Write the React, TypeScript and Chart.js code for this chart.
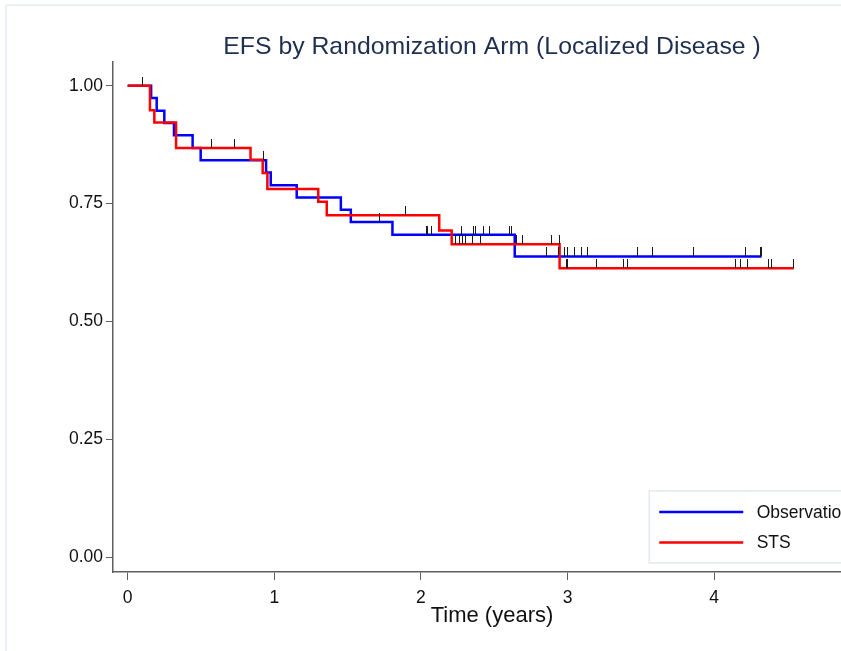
import React, { useEffect, useRef } from "react";
import { Chart, registerables } from "chart.js";

Chart.register(...registerables);

// ---------------- data ----------------
const TITLE = "EFS by Randomization Arm (Localized Disease )";
const X_TITLE = "Time (years)";
const SERIES_LABELS = ["Observation", "STS"];
const X_TICKS = [0, 1, 2, 3, 4];
const Y_TICKS = [0, 0.25, 0.5, 0.75, 1];

// Observation arm: step times (years) and survival after each step
const OBS_TIMES = [0, 0.16, 0.198, 0.25, 0.316, 0.443, 0.498, 0.944, 0.976, 1.153, 1.454, 1.522, 1.806, 2.64, 4.323];
const OBS_SURV = [1, 0.974, 0.947, 0.921, 0.895, 0.868, 0.842, 0.816, 0.789, 0.763, 0.737, 0.711, 0.684, 0.638, 0.638];
// Observation arm censored observations
const OBS_CENS_TIMES = [0.925, 1.715, 2.04, 2.047, 2.075, 2.275, 2.359, 2.371, 2.43, 2.468, 2.605, 2.616,
  2.86, 2.939, 2.978, 2.997, 3.047, 3.094, 3.133, 3.479, 3.577, 3.857, 4.214, 4.316, 4.323];
const OBS_CENS_SURV = [0.842, 0.711, 0.684, 0.684, 0.684, 0.684, 0.684, 0.684, 0.684, 0.684, 0.684, 0.684,
  0.638, 0.638, 0.638, 0.638, 0.638, 0.638, 0.638, 0.638, 0.638, 0.638, 0.638, 0.638, 0.638];

// STS arm
const STS_TIMES = [0, 0.152, 0.182, 0.33, 0.838, 0.921, 0.953, 1.3, 1.358, 2.125, 2.21, 2.946, 4.543];
const STS_SURV = [1, 0.948, 0.922, 0.868, 0.843, 0.815, 0.781, 0.754, 0.725, 0.693, 0.664, 0.613, 0.613];
const STS_CENS_TIMES = [0.098, 0.569, 0.728, 1.897, 2.239, 2.261, 2.284, 2.302, 2.355, 2.405, 2.651, 2.694,
  2.894, 2.946, 2.99, 3.001, 3.201, 3.383, 3.41, 4.145, 4.18, 4.225, 4.373, 4.389, 4.543];
const STS_CENS_SURV = [1, 0.868, 0.868, 0.725, 0.664, 0.664, 0.664, 0.664, 0.664, 0.664, 0.664, 0.664,
  0.664, 0.664, 0.613, 0.613, 0.613, 0.613, 0.613, 0.613, 0.613, 0.613, 0.613, 0.613, 0.613];

// ---------------- style ----------------
const W = 980;
const H = 651;
const PLOT_RIGHT = 871;
const FONT = '"Liberation Sans", Arial, Helvetica, sans-serif';
const BLUE = "#0000ff";
const RED = "#ff0000";
const AXIS = "#5f5f5f";
const TITLE_COLOR = "#1e2f4f";
const TEXT = "#111111";

function makeTick(): HTMLCanvasElement {
  const c = document.createElement("canvas");
  c.width = 1;
  c.height = 18;
  const g = c.getContext("2d")!;
  g.fillStyle = "#1a1a1a";
  g.fillRect(0, 0, 1, 9);
  return c;
}

const framePlugin = {
  id: "frame",
  beforeDraw(chart: any) {
    const { ctx, width, height } = chart;
    ctx.save();
    ctx.fillStyle = "#ffffff";
    ctx.fillRect(0, 0, width, height);
    ctx.strokeStyle = "#e6edf0";
    ctx.lineWidth = 1.5;
    ctx.strokeRect(6, 5.25, width + 20, height + 20);
    ctx.restore();
  },
};

const legendPlugin = {
  id: "boxLegend",
  afterDraw(chart: any) {
    const { ctx, chartArea } = chart;
    const items = [chart.data.datasets[0], chart.data.datasets[1]];
    ctx.save();
    ctx.font = `17.5px ${FONT}`;
    const maxText = Math.max(...items.map((d: any) => ctx.measureText(d.label).width));
    const pad = 10;
    const lineLen = 84;
    const gap = 13.4;
    const boxW = pad + lineLen + gap + maxText + pad;
    const right = chartArea.right - 10;
    const left = right - boxW;
    const bottom = chartArea.bottom - 9;
    const top = bottom - 72;
    ctx.fillStyle = "#ffffff";
    ctx.fillRect(left, top, boxW, bottom - top);
    ctx.strokeStyle = "#e3e9ec";
    ctx.lineWidth = 1.5;
    ctx.strokeRect(left, top, boxW, bottom - top);
    const rows = [top + 21, top + 51.5];
    items.forEach((d: any, i: number) => {
      ctx.strokeStyle = d.borderColor;
      ctx.lineWidth = 2.5;
      ctx.beginPath();
      ctx.moveTo(left + pad, rows[i]);
      ctx.lineTo(left + pad + lineLen, rows[i]);
      ctx.stroke();
      ctx.fillStyle = TEXT;
      ctx.textBaseline = "middle";
      ctx.textAlign = "left";
      ctx.fillText(d.label, left + pad + lineLen + gap, rows[i] + 1);
    });
    ctx.restore();
  },
};

export default function App() {
  const ref = useRef<HTMLCanvasElement>(null);

  useEffect(() => {
    document.body.style.margin = "0";
    const canvas = ref.current!;
    const tick = makeTick();
    const obsLine = OBS_TIMES.map((t, i) => ({ x: t, y: OBS_SURV[i] }));
    const stsLine = STS_TIMES.map((t, i) => ({ x: t, y: STS_SURV[i] }));
    const cens = [
      ...OBS_CENS_TIMES.map((t, i) => ({ x: t, y: OBS_CENS_SURV[i] })),
      ...STS_CENS_TIMES.map((t, i) => ({ x: t, y: STS_CENS_SURV[i] })),
    ];

    const chart = new Chart(canvas, {
      type: "line",
      data: {
        datasets: [
          {
            label: SERIES_LABELS[0],
            data: obsLine,
            borderColor: BLUE,
            backgroundColor: BLUE,
            borderWidth: 2.5,
            stepped: "before",
            pointRadius: 0,
            fill: false,
            order: 2,
          },
          {
            label: SERIES_LABELS[1],
            data: stsLine,
            borderColor: RED,
            backgroundColor: RED,
            borderWidth: 2.5,
            stepped: "before",
            pointRadius: 0,
            fill: false,
            order: 1,
          },
          {
            type: "scatter",
            label: "censored",
            data: cens,
            pointStyle: tick as any,
            pointRadius: 4,
            showLine: false,
            borderColor: "rgba(0,0,0,0)",
            backgroundColor: "rgba(0,0,0,0)",
            order: 0,
          } as any,
        ],
      },
      options: {
        responsive: false,
        animation: false,
        devicePixelRatio: 1,
        layout: { padding: { left: 0, right: W - PLOT_RIGHT, top: 0, bottom: 0 } },
        plugins: {
          legend: { display: false },
          tooltip: { enabled: false },
          title: {
            display: true,
            text: TITLE,
            fullSize: false,
            color: TITLE_COLOR,
            font: { family: FONT, size: 24.8, weight: "normal" },
            padding: { top: 32, bottom: 0.2 },
          },
        },
        scales: {
          x: {
            type: "linear",
            min: -0.1,
            max: 5.07,
            afterBuildTicks: (s: any) => {
              s.ticks = X_TICKS.map((v) => ({ value: v }));
            },
            afterFit: (s: any) => {
              s.height = 79;
            },
            ticks: {
              color: TEXT,
              font: { family: FONT, size: 17.5 },
              padding: 8,
              maxRotation: 0,
              callback: (v: any) => String(v),
            },
            grid: { drawOnChartArea: false, drawTicks: true, tickLength: 8, color: AXIS, lineWidth: 1 },
            border: { display: true, color: AXIS, width: 1.5 },
            title: {
              display: true,
              text: X_TITLE,
              color: TEXT,
              font: { family: FONT, size: 22 },
              padding: { top: 0, bottom: 21.8 },
            },
          },
          y: {
            type: "linear",
            min: -0.0312,
            max: 1.0503,
            afterBuildTicks: (s: any) => {
              s.ticks = Y_TICKS.map((v) => ({ value: v }));
            },
            afterFit: (s: any) => {
              s.width = 113;
            },
            ticks: {
              color: TEXT,
              font: { family: FONT, size: 17.5 },
              padding: 3,
              callback: (v: any) => Number(v).toFixed(2),
            },
            grid: { drawOnChartArea: false, drawTicks: true, tickLength: 7, color: AXIS, lineWidth: 1 },
            border: { display: true, color: AXIS, width: 1.5 },
          },
        },
      },
      plugins: [framePlugin, legendPlugin],
    });
    return () => chart.destroy();
  }, []);

  return (
    <div style={{ width: 841, height: 651, overflow: "hidden", position: "relative", background: "#fff" }}>
      <canvas ref={ref} width={W} height={H} style={{ display: "block", width: W, height: H }} />
    </div>
  );
}
